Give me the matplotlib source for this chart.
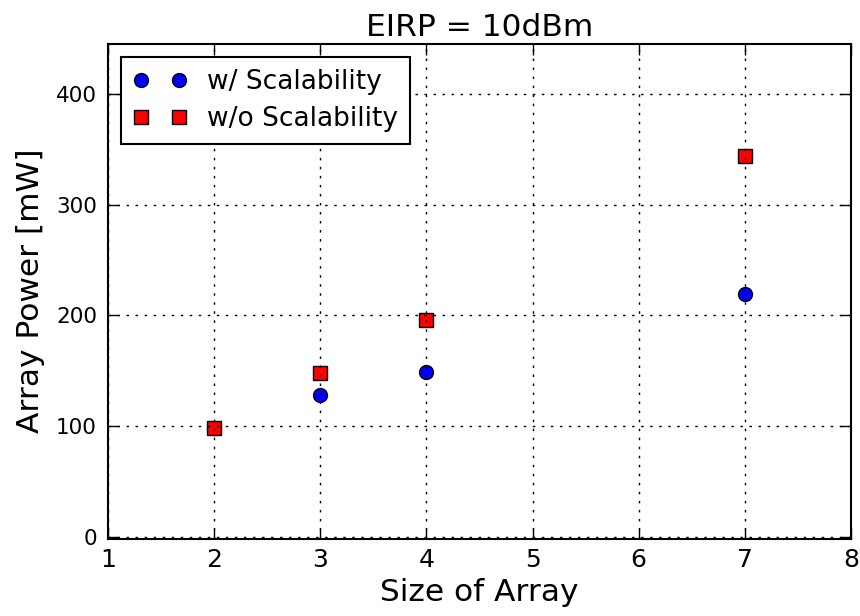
import matplotlib
matplotlib.use("Agg")
import matplotlib.pyplot as plt

sizes_with = [2, 3, 4, 7]
power_with = [98, 128, 149, 219]
sizes_without = [2, 3, 4, 7]
power_without = [98, 148, 196, 344]

title = "EIRP = 10dBm"
xlabel = "Size of Array"
ylabel = "Array Power [mW]"
xticks = [1, 2, 3, 4, 5, 6, 7, 8]
yticks = [0, 100, 200, 300, 400]

plt.rcParams['font.family'] = ['DejaVu Sans']
fig = plt.figure(figsize=(8.6, 6.16), dpi=100, facecolor='white')
ax = fig.add_axes([0.1256, 0.1258, 0.8639, 0.8028])

ax.plot(sizes_with, power_with, linestyle='none', marker='o', markersize=10,
        markerfacecolor='blue', markeredgecolor='black', markeredgewidth=1,
        label='w/ Scalability', zorder=2)
ax.plot(sizes_without, power_without, linestyle='none', marker='s', markersize=10,
        markerfacecolor='red', markeredgecolor='black', markeredgewidth=1,
        label='w/o Scalability', zorder=2)

ax.set_xlim(1, 8)
ax.set_ylim(-1.5, 445)
ax.set_xticks(xticks)
ax.set_yticks(yticks)
ax.set_axisbelow(False)
ax.grid(True, linestyle=(0, (1.8, 4.7)), color='black', linewidth=1.0)
ax.tick_params(direction='in', top=True, right=True, length=8, width=1)
ax.tick_params(axis='x', labelsize=18, pad=7)
ax.tick_params(axis='y', labelsize=15.5, pad=8)
for s in ax.spines.values():
    s.set_linewidth(1.5)

ax.set_title(title, fontsize=22.5, pad=6)
ax.set_xlabel(xlabel, fontsize=22.5, labelpad=4)
ax.set_ylabel(ylabel, fontsize=22.5, labelpad=8)

leg = ax.legend(loc='upper left', numpoints=2, fontsize=19, fancybox=False,
                edgecolor='black', framealpha=1, borderpad=0.45,
                handlelength=2.05, handletextpad=0.75, labelspacing=0.42,
                borderaxespad=0.5)
leg.get_frame().set_linewidth(1.5)

fig.savefig("out.png", dpi=100, facecolor='white')
